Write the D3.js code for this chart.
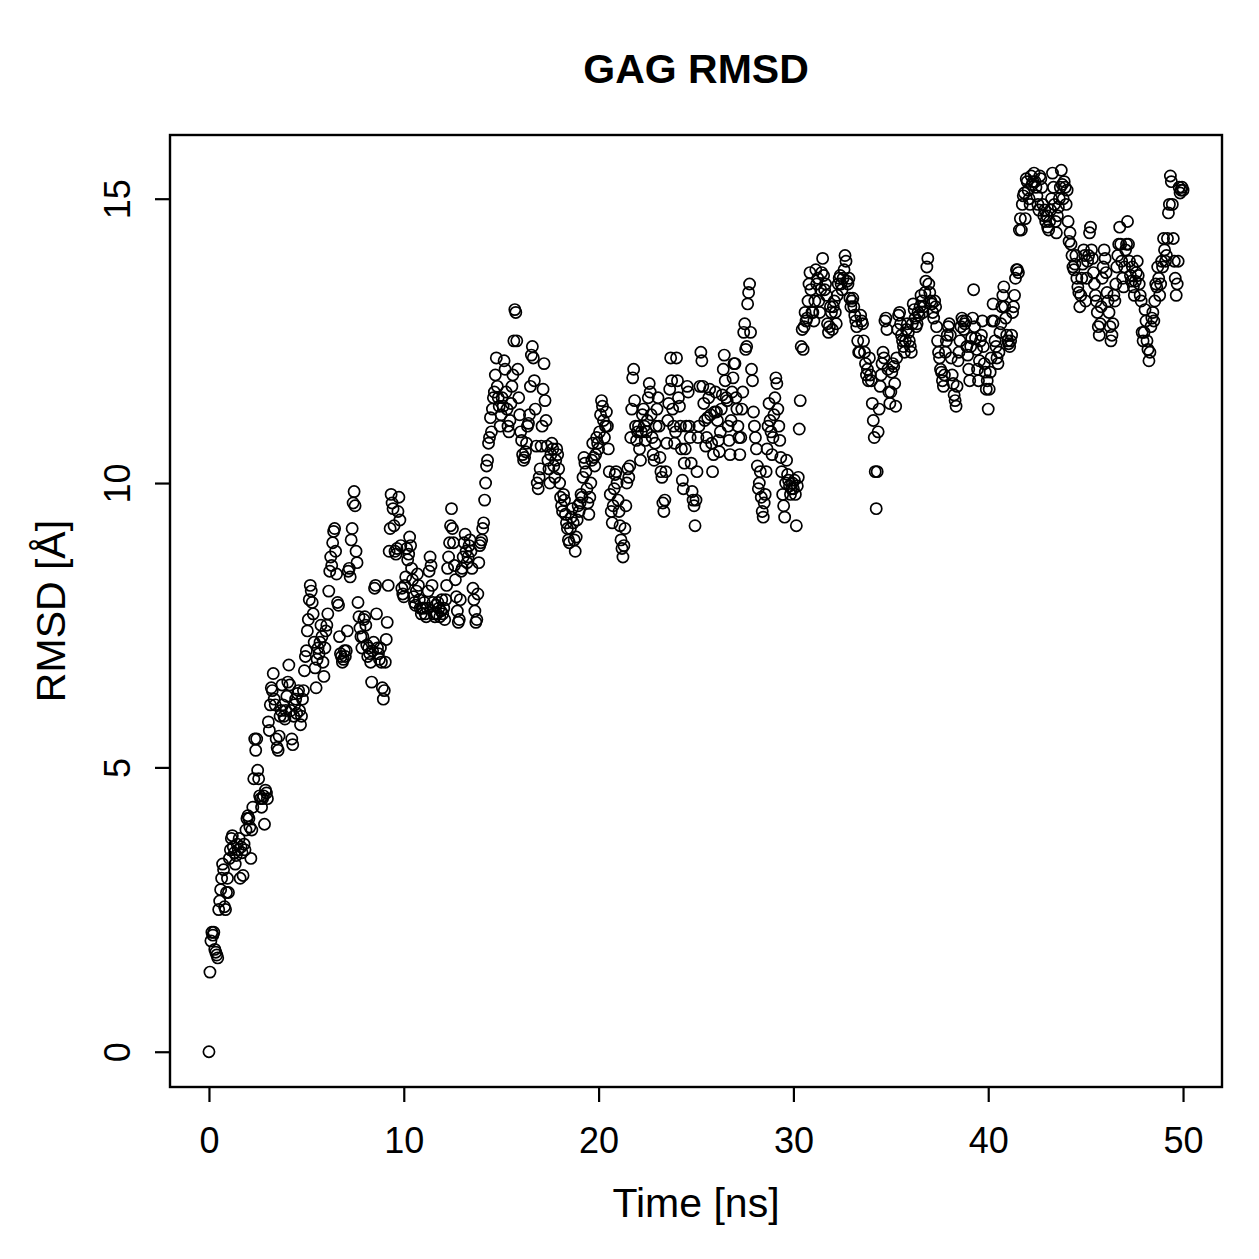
<!DOCTYPE html>
<html><head><meta charset="utf-8">
<script src="https://cdn.jsdelivr.net/npm/d3@7"></script>
<style>body{margin:0;background:#fff} text{font-family:"Liberation Sans",Arial,Helvetica,sans-serif}</style>
</head><body><svg id="c" width="1259" height="1259"></svg>
<script>
const chartTitle = "GAG RMSD";
const xLabel = "Time [ns]";
const yLabel = "RMSD [Å]";
const xTicks = [0, 10, 20, 30, 40, 50];
const yTicks = [0, 5, 10, 15];
const timeStep = 0.05; // ns between frames

const rmsd_0_10 = [
0,1.4,1.95,2.1,2.05,2.1,1.8,1.75,1.7,1.65,2.5,2.65,2.85,3.05,3.3,3.2,2.55,2.5,2.8,3.05,
2.8,3.4,3.55,3.75,3.8,3.6,3.5,3.3,3.45,3.65,3.55,3.75,3.05,3.6,3.5,3.1,3.65,3.55,3.9,4.1,
4.15,4.1,3.95,3.4,3.9,4.3,4.8,5.5,5.3,5.5,4.95,4.8,4.5,4.45,4.3,4.45,4.5,4.0,4.6,4.55,
4.45,5.8,5.65,6.1,6.4,6.35,6.65,6.2,6.1,5.5,5.35,5.3,5.55,5.9,6.0,6.45,6.1,5.9,5.85,6.0,
6.25,6.5,6.8,6.45,6.0,5.5,5.4,5.9,6.1,6.2,5.95,6.3,6.35,6.0,5.75,5.9,6.2,6.35,6.7,6.95,
7.05,7.4,7.6,7.95,8.2,8.1,7.9,7.7,7.2,6.75,6.4,6.9,7.1,7.0,7.2,7.5,7.3,6.85,6.6,7.1,
7.4,7.5,7.7,8.1,8.45,8.7,8.55,8.95,9.15,9.2,8.8,8.4,7.9,7.85,7.3,7.0,6.95,6.85,6.9,7.05,
6.95,7.05,7.4,8.45,8.5,8.35,9.0,9.2,9.65,9.85,9.6,8.8,8.6,7.9,7.65,7.45,7.3,7.1,7.3,7.6,
7.65,7.5,7.15,6.95,7.1,7.0,6.85,6.5,7.05,7.2,8.15,8.2,7.7,7.1,7.0,6.9,7.1,6.85,6.4,6.2,
6.35,6.85,7.25,7.55,8.2,8.8,9.2,9.8,9.65,9.55,9.25,8.8,8.75,8.85,9.5,9.75,9.35,8.9,8.15,8.05
];
const rmsd_10_20 = [
8.0,8.2,8.35,8.85,8.65,8.75,9.05,8.9,8.5,8.3,8.0,7.9,7.85,8.1,8.4,8.2,7.95,7.8,7.7,7.8,
7.8,7.9,7.7,7.65,7.8,8.1,8.45,8.7,8.55,8.2,7.9,7.7,7.65,7.85,7.7,7.9,7.8,7.65,7.75,7.95,
7.7,7.8,7.6,7.95,8.2,8.5,8.7,8.95,9.25,9.55,9.2,8.95,8.55,8.3,8.0,7.75,7.55,7.6,7.95,8.45,
8.5,8.7,8.95,9.1,8.8,8.6,8.7,8.9,9.0,8.8,8.5,8.15,7.95,7.75,7.55,7.6,8.05,8.6,8.9,8.95,
9.0,9.2,9.3,9.7,10.0,10.3,10.4,10.7,10.8,11.15,10.9,11.3,11.5,11.6,11.9,12.2,11.7,11.5,11.35,11.0,
11.2,11.5,11.35,12.15,12.0,11.6,11.3,11.0,10.9,11.1,11.4,11.7,11.9,12.5,13.05,13.0,12.5,12.0,11.5,11.2,
10.9,10.75,10.5,10.4,10.45,10.55,10.7,11.0,11.05,11.2,11.7,12.25,12.4,12.2,11.8,11.3,10.65,10.0,9.9,10.1,
10.25,10.65,11.0,11.65,12.1,11.45,11.1,10.65,10.4,10.25,10.0,10.5,10.7,10.6,10.3,10.1,10.4,10.6,10.5,10.25,
10.0,9.75,9.6,9.5,9.8,9.7,9.45,9.3,9.2,9.0,8.95,9.2,9.4,9.55,9.3,9.0,8.8,9.05,9.35,9.6,
9.5,9.65,9.8,9.75,10.1,10.45,10.35,10.2,9.9,9.65,9.45,9.75,10.0,10.4,10.7,10.45,10.3,10.5,10.8,10.7
];
const rmsd_20_30 = [
10.6,10.9,11.2,11.45,11.35,11.1,10.8,11.0,11.25,11.0,10.6,10.2,9.8,9.5,9.3,9.6,9.9,10.15,10.2,10.0,
9.7,9.5,9.25,9.0,8.85,8.7,8.9,9.2,9.6,10.0,10.25,10.1,10.3,10.8,11.3,11.85,12.0,11.45,11.0,10.75,
10.9,11.0,10.6,10.4,10.9,11.2,11.3,11.0,10.75,10.9,11.1,11.5,11.75,11.6,11.2,10.8,10.5,10.4,10.7,11.0,
11.3,11.5,11.0,10.45,10.2,10.1,9.65,9.5,9.7,10.2,10.7,11.1,11.4,11.65,12.2,11.8,11.3,11.0,10.7,10.9,
12.2,11.8,11.5,11.35,11.0,10.6,10.05,9.9,10.35,10.6,11.0,11.7,11.6,11.0,10.8,10.35,9.85,9.7,9.6,9.25,
9.7,10.2,10.8,11.0,11.7,12.3,12.15,11.7,11.4,11.1,10.65,10.8,11.15,11.5,11.65,11.2,10.7,10.2,10.5,11.25,
11.6,11.25,11.1,10.75,10.55,10.9,11.3,11.55,12.0,12.25,11.8,11.5,11.45,11.0,10.75,10.5,11.1,11.6,11.85,12.1,
12.1,11.5,11.3,11.0,10.8,10.5,10.8,11.3,11.6,12.65,12.8,12.35,12.4,13.15,13.35,13.5,12.65,12.0,11.8,11.25,
11.0,10.8,10.6,10.3,9.9,10.0,10.2,9.75,9.5,9.4,9.65,9.8,10.2,10.6,11.0,11.4,11.1,10.9,10.5,10.8,
11.2,11.5,11.85,11.75,11.3,11.0,10.75,10.45,10.2,9.8,9.6,9.4,10.0,10.4,10.15,10.05,9.95,9.8,9.9,10.0
];
const rmsd_30_40 = [
9.9,10.05,9.8,9.25,9.95,10.1,10.95,11.45,12.4,12.7,12.35,12.75,13.0,12.85,12.9,13.2,13.5,13.7,13.4,13.0,
13.0,12.85,13.2,13.75,13.5,13.6,13.2,13.0,13.4,13.7,13.95,13.65,13.4,13.5,13.3,12.8,12.65,12.75,13.1,13.0,
12.7,13.1,13.2,13.0,12.8,13.3,13.5,13.6,13.65,13.5,13.4,13.6,13.75,14.0,13.9,13.55,13.5,13.6,13.25,13.1,
13.2,13.25,13.1,12.95,12.85,12.75,12.5,12.3,12.3,12.95,12.85,12.8,12.5,12.3,12.1,11.9,12.0,11.8,12.2,11.9,
11.8,11.4,11.1,10.8,10.2,9.55,10.2,10.9,11.3,11.7,11.9,12.1,12.3,12.2,12.85,12.9,12.7,12.0,11.6,11.4,
11.6,11.95,12.1,12.05,11.75,11.35,12.2,12.7,12.95,13.0,12.8,12.6,12.5,12.4,12.3,12.5,12.7,12.8,12.65,12.5,
12.4,12.3,12.8,13.15,13.05,12.9,12.75,12.8,13.0,12.95,13.1,13.3,13.2,13.0,13.1,13.35,13.55,13.8,13.95,13.5,
13.35,13.2,13.15,13.0,12.9,13.2,13.1,12.75,12.5,12.3,12.2,12.0,11.95,11.8,11.7,11.9,12.3,12.5,12.6,12.75,
12.8,12.6,12.2,11.9,11.75,11.55,11.45,11.35,11.7,12.15,12.3,12.5,12.75,12.9,12.85,12.7,12.8,12.85,12.4,12.25,
12.0,11.8,12.4,12.55,12.9,13.4,12.75,12.55,12.35,12.0,11.8,12.15,12.5,12.6,12.85,12.4,12.1,11.95,11.65,11.8
];
const rmsd_40_50 = [
11.3,11.65,11.95,12.2,12.85,13.15,12.85,12.5,12.4,12.2,12.1,12.3,12.65,12.8,13.1,13.3,13.45,13.1,12.9,12.6,
12.5,12.45,12.4,12.5,12.6,13.0,13.1,13.3,13.6,13.75,13.75,13.7,14.45,14.65,14.45,14.9,15.05,15.1,14.65,15.35,
15.3,15.15,15.0,14.9,15.4,15.25,15.3,15.45,15.3,15.2,15.05,14.9,14.8,15.4,15.35,15.2,14.9,14.7,14.8,14.6,
14.7,14.5,14.45,14.6,14.8,15.0,15.45,15.2,14.9,14.6,14.4,14.7,14.85,15.0,15.2,15.5,15.25,15.0,15.3,15.2,
14.9,15.15,14.6,14.25,14.4,14.2,14.0,13.8,13.75,13.85,14.0,13.6,13.45,13.35,13.1,13.3,13.6,13.85,14.1,14.0,
13.2,13.6,13.9,14.0,14.4,14.5,14.1,13.95,13.7,13.5,13.3,13.2,13.0,12.75,12.6,12.8,13.1,13.6,13.8,14.1,
13.95,13.7,13.35,13.2,13.0,12.75,12.5,12.6,12.8,13.3,13.2,13.5,13.8,14.0,14.2,14.5,14.2,13.9,13.6,13.45,
13.8,14.1,14.2,14.6,14.2,13.9,13.65,13.55,13.8,13.45,13.3,13.55,13.7,13.9,13.65,13.5,13.3,13.2,12.65,12.5,
12.65,13.05,12.85,12.5,12.35,12.15,12.3,12.75,12.9,13.0,12.85,13.2,13.5,13.45,13.8,13.6,13.3,13.5,13.9,13.8,
14.3,14.1,13.9,14.0,14.3,14.75,14.9,15.4,15.3,14.9,14.3,13.9,13.6,13.3,13.5,13.9,15.2,15.1,15.15,15.2,15.15
];

const rmsd = [].concat(rmsd_0_10, rmsd_10_20, rmsd_20_30, rmsd_30_40, rmsd_40_50);
const data = rmsd.map((v, i) => ({ t: i * timeStep, v }));

const svg = d3.select("#c");
const L = 170, R = 1222, T = 135, B = 1087;
const x = d3.scaleLinear().domain([-2, 52]).range([L, R]);
const y = d3.scaleLinear().domain([-0.62, 16.12]).range([B, T]);
const tickFs = 36, labFs = 41;

// points
svg.append("g").selectAll("circle").data(data).join("circle")
  .attr("cx", d => x(d.t)).attr("cy", d => y(d.v)).attr("r", 5.6)
  .attr("fill", "none").attr("stroke", "#000").attr("stroke-width", 1.7);

// box
svg.append("rect").attr("x", L).attr("y", T).attr("width", R - L).attr("height", B - T)
  .attr("fill", "none").attr("stroke", "#000").attr("stroke-width", 2.4);

// x axis
const gx = svg.append("g").attr("transform", `translate(0,${B})`)
  .call(d3.axisBottom(x).tickValues(xTicks).tickFormat(d3.format("d")).tickSize(15).tickSizeOuter(0));
gx.select(".domain").remove();
gx.selectAll(".tick line").attr("stroke", "#000").attr("stroke-width", 2.2);
gx.selectAll(".tick text").attr("y", 66).attr("dy", 0).attr("font-size", tickFs).attr("fill", "#000")
  .attr("font-family", "Liberation Sans, Arial, sans-serif");

// y axis
const gy = svg.append("g").attr("transform", `translate(${L},0)`)
  .call(d3.axisLeft(y).tickValues(yTicks).tickFormat(d3.format("d")).tickSize(15).tickSizeOuter(0));
gy.select(".domain").remove();
gy.selectAll(".tick line").attr("stroke", "#000").attr("stroke-width", 2.2);
gy.selectAll(".tick text").attr("x", null).attr("dy", 0).attr("text-anchor", "middle")
  .attr("transform", "translate(-40,0) rotate(-90)")
  .attr("font-size", tickFs).attr("fill", "#000").attr("font-family", "Liberation Sans, Arial, sans-serif");

// title and labels
svg.append("text").attr("x", (L + R) / 2).attr("y", 83).attr("text-anchor", "middle")
  .attr("font-size", 41).attr("font-weight", "bold").text(chartTitle);
svg.append("text").attr("x", (L + R) / 2).attr("y", 1217).attr("text-anchor", "middle")
  .attr("font-size", labFs).text(xLabel);
svg.append("text").attr("transform", `translate(65,${(T + B) / 2}) rotate(-90)`).attr("text-anchor", "middle")
  .attr("font-size", labFs).text(yLabel);
</script></body></html>
